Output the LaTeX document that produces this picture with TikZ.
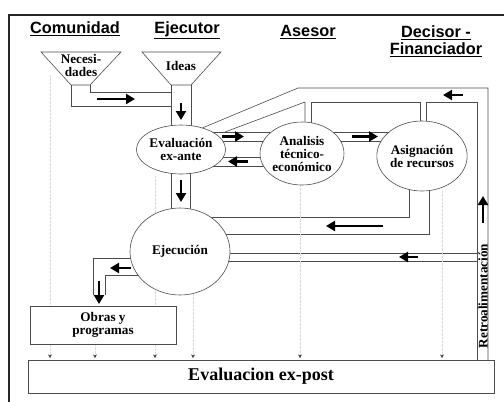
\documentclass[tikz,border=0pt]{standalone}
\usepackage{fontspec}
\setmainfont{Liberation Serif}
\setsansfont{Liberation Sans}
\usetikzlibrary{arrows.meta,shapes.geometric,backgrounds}
\tikzset{%
    >={Triangle[length=9pt,width=10pt]},
    % lines and channels
    pipe/.style = {draw=black!70, line width=0.6pt},
    frame/.style = {draw=black!85, line width=1.3pt},
    flow/.style = {->, line width=2.7pt},
    faint/.style = {gray!30, densely dotted, line width=0.35pt,
        -{Stealth[length=3.5pt,width=3.5pt,color=black!75]}},
    % text and blocks
    title/.style = {font=\sffamily\bfseries\fontsize{16.3}{17}\selectfont,
        align=center, inner sep=0pt},
    txt/.style = {font=\bfseries\fontsize{13.2}{13}\selectfont,
        align=center, inner sep=0pt},
    stage/.style = {txt, ellipse, draw=black!70, fill=white, line width=0.6pt},
    block/.style = {txt, rectangle, draw=black!70, fill=white, line width=0.6pt}
}

\begin{document}
\begin{tikzpicture}[x=1pt, y=-1pt]
    \useasboundingbox (0,0) rectangle (504,402);
    \draw[frame] (504,15) -- (9,15) -- (9,402);

    % column titles
    \node[title] (comunidad) at (75,29) {\underline{Comunidad}};
    \node[title] (ejecutor) at (187,30) {\underline{Ejecutor}};
    \node[title] (asesor) at (308,32) {\underline{Asesor}};
    \node[title] (decisor) at (436,41) {\underline{Decisor -}\\\underline{Financiador}};

    % funnels
    \draw[pipe] (41,52) -- (121,52) -- (90,85) -- (71,85) -- cycle;
    \draw[pipe] (142,52) -- (221,52) -- (191,85) -- (171,85) -- cycle;
    \node[txt] (nec) at (81,65) {Necesi-\\dades};
    \node[txt] (ideas) at (181,66) {Ideas};

    % stages
    \node[stage, minimum width=62pt, minimum height=49pt] (eva) at (181,149.5) {Evaluación\\ex-ante};
    \node[stage, minimum width=82pt, minimum height=63pt] (ana) at (302,153.5) {Analisis\\técnico-\\económico};
    \node[stage, minimum width=82pt, minimum height=70pt] (asig) at (422,156) {Asignación\\de recursos};
    \node[stage, minimum width=100pt, minimum height=87pt] (ejec) at (180,251.5) {Ejecución};
    \node[block, minimum width=146pt, minimum height=38pt] (obras) at (103,325) {Obras y\\programas};
    \node[block, minimum width=466pt, minimum height=33pt,
        font=\bfseries\fontsize{18}{19}\selectfont] (expost) at (261,376.5) {Evaluacion ex-post};
    \node[txt, rotate=90] (retro) at (483,296) {Retroalimentación};

    \begin{scope}[on background layer]
        % channels
        \draw[pipe] (71,85) -- (71,106) -- (171,106);
        \draw[pipe] (90,85) -- (90,92) -- (171,92);
        \draw[pipe] (171,85) -- (171,150);
        \draw[pipe] (191,85) -- (191,150);
        \draw[pipe] (eva.center |- 0,132) -- (asig.center |- 0,132);
        \draw[pipe] (eva.center |- 0,141) -- (asig.center |- 0,141);
        \draw[pipe] (eva.center |- 0,157) -- (ana.center |- 0,157);
        \draw[pipe] (eva.center |- 0,166) -- (ana.center |- 0,166);
        \draw[pipe] (171,150) -- (171,250);
        \draw[pipe] (190,150) -- (190,250);
        % feedback loop over the top
        \draw[pipe] (eva.45) -- (298,88) -- (488,88) -- (488,360);
        \draw[pipe] (225,132) -- (305,102) -- (305,140);
        \draw[pipe] (311,140) -- (311,102) -- (420,102) -- (420,140);
        \draw[pipe] (426,140) -- (426,102) -- (477,102) -- (477,360);
        % back to execution
        \draw[pipe] (409,170) -- (409,217) -- (180,217);
        \draw[pipe] (429,170) -- (429,234) -- (180,234);
        \draw[pipe] (477,253) -- (180,253);
        \draw[pipe] (477,261) -- (180,261);
        % execution to works
        \draw[pipe] (160,258) -- (93,258) -- (93,295);
        \draw[pipe] (160,275) -- (105,275) -- (105,295);
        % to ex-post
        \draw[faint] (50,75) -- (50,358);
        \draw[faint] (95,344) -- (95,358);
        \draw[faint] (155,176) -- (155,358);
        \draw[faint] (193,294) -- (193,358);
        \draw[faint] (300,185) -- (300,358);
        \draw[faint] (442,191) -- (442,358);
    \end{scope}

    % flow arrows
    \draw[flow] (97,99) -- (135,99);
    \draw[flow] (181,103) -- (181,120);
    \draw[flow] (222,136.5) -- (244,136.5);
    \draw[flow] (248,161.5) -- (228,161.5);
    \draw[flow] (352,136.5) -- (378,136.5);
    \draw[flow] (181,180) -- (181,202);
    \draw[flow] (463,95) -- (443,95);
    \draw[flow] (383,226) -- (326,226);
    \draw[flow] (418,257) -- (399,257);
    \draw[flow] (483,223) -- (483,196);
    \draw[flow] (131,268) -- (110,268);
    \draw[flow] (99,281) -- (99,304);
\end{tikzpicture}
\end{document}
